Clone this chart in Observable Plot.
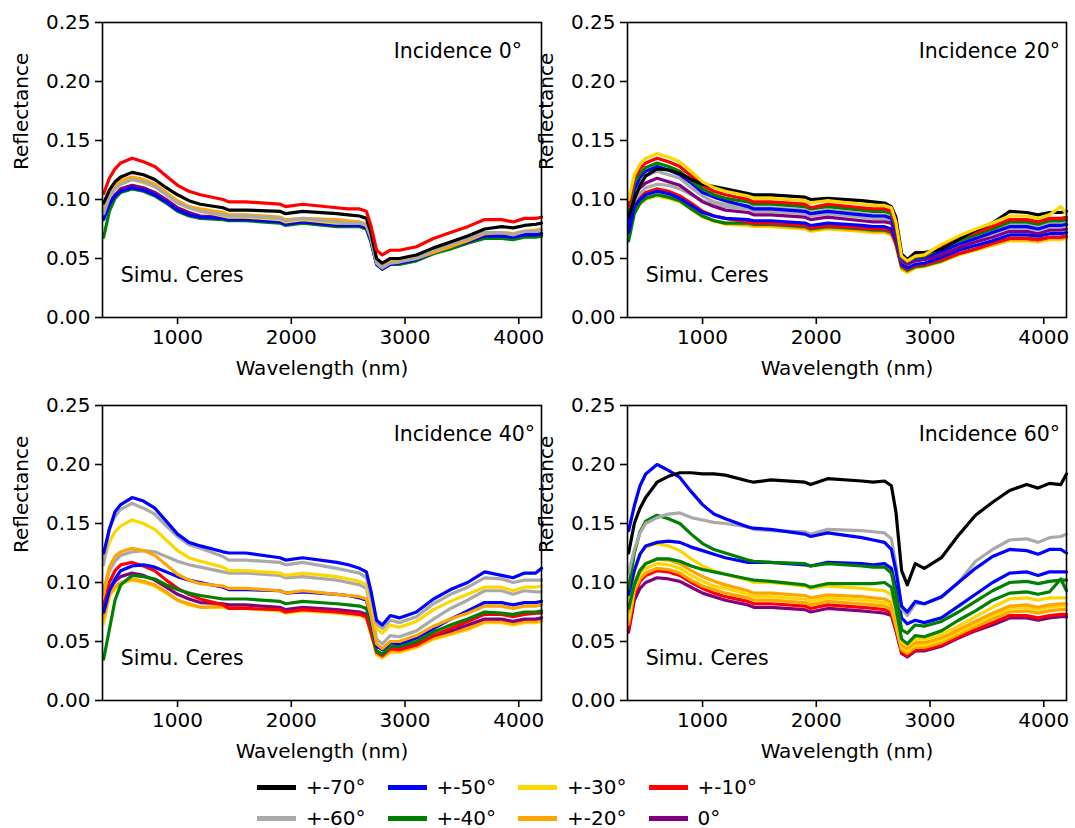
<!DOCTYPE html>
<html>
<head>
<meta charset="utf-8">
<script src="https://cdn.jsdelivr.net/npm/d3@7"></script>
<script src="https://cdn.jsdelivr.net/npm/@observablehq/plot@0.6"></script>
<style>
  body { margin: 0; background: #fff; }
  #fig { position: relative; width: 1075px; height: 828px; background: #fff; font-family: "DejaVu Sans", sans-serif; }
  .panel { position: absolute; }
  .sw { position: absolute; width: 39px; height: 5px; }
  .lt { position: absolute; font-size: 20px; line-height: 24px; color: #000; white-space: nowrap; }
</style>
</head>
<body>
<div id="fig"></div>
<script>
// ---------- shared axes / categories ----------
const wavelengths = [350, 400, 450, 500, 600, 700, 800, 900, 1000, 1100, 1200, 1400, 1450, 1600, 1900, 1950, 2100, 2400, 2500, 2600, 2660, 2700, 2750, 2800, 2870, 2950, 3100, 3250, 3400, 3550, 3700, 3850, 3950, 4050, 4150, 4200];
const xTicks = [1000, 2000, 3000, 4000];
const yTicks = [0, 0.05, 0.10, 0.15, 0.20, 0.25];
const legendKeys = ["+-70°", "+-60°", "+-50°", "+-40°", "+-30°", "+-20°", "+-10°", "0°"];
const legendColors = ["#000000", "#a9a9a9", "#0000ff", "#008000", "#ffd700", "#ffa500", "#ff0000", "#800080"];
const panelTitles = ["Incidence 0°", "Incidence 20°", "Incidence 40°", "Incidence 60°"];
const sampleLabel = "Simu. Ceres";
const xLabel = "Wavelength (nm)";
const yLabel = "Reflectance";

// ---------- Incidence 0° ----------
const inc0_purple = [.087,.098,.104,.109,.112,.110,.106,.100,.093,.089,.086, .085,.084,.084,.082,.080,.082,.079,.079,.079,.077, .066,.046,.042,.046,.047,.050,.056,.061,.065,.070,.070,.069,.071,.071,.072];
const inc0_green  = [.068,.090,.101,.106,.109,.107,.103,.097,.090,.086,.084, .083,.082,.082,.080,.078,.080,.077,.077,.077,.075, .064,.045,.041,.045,.045,.048,.054,.058,.063,.067,.067,.066,.068,.068,.069];
const inc0_blue   = [.083,.096,.103,.107,.110,.108,.104,.098,.091,.087,.085, .084,.083,.083,.081,.079,.081,.078,.078,.078,.076, .065,.045,.041,.045,.046,.049,.055,.060,.064,.069,.069,.068,.070,.070,.071];
const inc0_yellow = [.091,.102,.109,.113,.117,.114,.111,.104,.097,.093,.090, .086,.085,.085,.083,.081,.083,.080,.080,.080,.078, .068,.048,.043,.047,.048,.052,.058,.063,.067,.072,.072,.071,.073,.073,.074];
const inc0_orange = [.092,.104,.111,.116,.119,.117,.113,.106,.099,.094,.092, .089,.087,.087,.085,.083,.084,.083,.082,.081,.079, .068,.047,.043,.047,.048,.050,.055,.060,.065,.071,.072,.071,.073,.074,.075];
const inc0_grey   = [.088,.102,.109,.113,.117,.115,.111,.104,.097,.093,.090, .087,.086,.086,.084,.082,.084,.081,.080,.080,.079, .068,.046,.042,.046,.047,.050,.057,.062,.067,.072,.072,.070,.073,.073,.074];
const inc0_black  = [.097,.108,.115,.119,.123,.121,.117,.110,.104,.099,.096, .093,.091,.091,.090,.088,.090,.088,.087,.086,.084, .072,.050,.046,.050,.050,.053,.059,.064,.069,.075,.077,.076,.078,.079,.080];
const inc0_red    = [.105,.118,.126,.131,.135,.132,.128,.120,.112,.107,.104, .100,.098,.098,.096,.094,.096,.093,.092,.092,.090, .078,.057,.053,.057,.057,.060,.067,.072,.077,.083,.083,.081,.084,.084,.085];

// ---------- Incidence 20° ----------
const inc20_yellowM = [.068,.090,.096,.100,.103,.101,.098,.092,.085,.082,.079, .078,.077,.077,.075,.073,.075,.073,.072,.072,.070, .061,.041,.038,.042,.043,.047,.053,.057,.061,.065,.065,.064,.066,.066,.067];
const inc20_orangeM = [.070,.091,.097,.101,.104,.102,.099,.092,.086,.082,.080, .079,.078,.078,.076,.074,.076,.074,.073,.073,.071, .062,.042,.039,.043,.044,.048,.054,.058,.062,.066,.066,.065,.067,.067,.068];
const inc20_greenM  = [.065,.088,.097,.101,.104,.102,.099,.092,.086,.082,.080, .080,.079,.079,.077,.075,.077,.075,.074,.074,.072, .063,.043,.040,.043,.044,.048,.054,.058,.063,.067,.067,.066,.068,.068,.069];
const inc20_redM    = [.078,.095,.102,.106,.109,.107,.103,.097,.090,.086,.084, .081,.080,.080,.078,.076,.078,.076,.075,.075,.073, .063,.044,.041,.044,.045,.049,.054,.058,.063,.067,.067,.066,.068,.068,.069];
const inc20_blueM   = [.072,.094,.100,.104,.107,.105,.101,.095,.089,.086,.084, .083,.082,.082,.080,.078,.080,.078,.077,.077,.075, .066,.045,.042,.045,.046,.051,.057,.061,.065,.070,.070,.069,.071,.071,.072];
const inc20_greyM   = [.090,.099,.105,.110,.113,.112,.109,.104,.099,.096,.094, .092,.090,.090,.088,.086,.088,.085,.084,.084,.082, .072,.048,.045,.048,.050,.055,.061,.066,.071,.076,.076,.074,.077,.077,.078];
const inc20_purple  = [.085,.103,.110,.114,.118,.115,.112,.105,.098,.094,.091, .089,.087,.087,.085,.083,.085,.082,.081,.081,.080, .069,.048,.045,.048,.049,.053,.059,.064,.068,.073,.073,.071,.074,.074,.075];
const inc20_greyP   = [.095,.110,.116,.120,.124,.121,.118,.110,.103,.098,.096, .095,.093,.093,.091,.089,.091,.088,.087,.087,.085, .074,.050,.046,.050,.051,.057,.064,.069,.073,.079,.079,.077,.080,.080,.081];
const inc20_blueP   = [.080,.108,.119,.124,.128,.125,.121,.114,.106,.102,.099, .094,.092,.092,.090,.088,.090,.087,.086,.086,.084, .073,.050,.046,.050,.051,.056,.062,.067,.072,.077,.077,.075,.078,.078,.079];
const inc20_greenP  = [.090,.114,.122,.127,.131,.128,.124,.116,.109,.104,.101, .098,.096,.096,.094,.092,.094,.091,.090,.090,.088, .076,.051,.047,.051,.052,.059,.065,.070,.075,.081,.081,.079,.082,.082,.083];
const inc20_redP    = [.095,.118,.126,.131,.135,.132,.128,.120,.112,.107,.104, .100,.098,.098,.096,.093,.096,.093,.092,.092,.090, .078,.052,.047,.052,.053,.060,.067,.072,.077,.083,.083,.081,.084,.084,.085];
const inc20_black   = [.085,.100,.112,.120,.126,.125,.122,.117,.113,.111,.109, .105,.104,.104,.102,.100,.101,.099,.098,.097,.094, .085,.054,.049,.055,.055,.058,.066,.074,.080,.090,.089,.087,.089,.089,.090];
const inc20_yellowP = [.100,.121,.130,.135,.139,.136,.132,.124,.115,.110,.107, .103,.101,.101,.099,.097,.099,.096,.095,.095,.093, .081,.052,.048,.052,.053,.062,.069,.075,.080,.086,.086,.084,.087,.094,.088];

// ---------- Incidence 40° ----------
const inc40_yellowM = [.065,.088,.095,.099,.102,.100,.097,.091,.085,.081,.079, .079,.078,.078,.076,.074,.076,.074,.073,.072,.070, .057,.039,.036,.041,.041,.045,.052,.056,.060,.066,.066,.064,.066,.066,.067];
const inc40_orangeM = [.070,.090,.096,.100,.103,.101,.098,.092,.085,.082,.079, .080,.079,.079,.077,.075,.077,.075,.074,.073,.071, .058,.040,.037,.042,.042,.046,.053,.057,.061,.067,.067,.065,.067,.067,.068];
const inc40_purple  = [.075,.094,.101,.105,.108,.106,.102,.096,.090,.086,.083, .082,.081,.081,.079,.077,.079,.077,.076,.075,.073, .060,.042,.039,.044,.044,.048,.055,.059,.064,.069,.069,.067,.069,.069,.070];
const inc40_red     = [.080,.100,.110,.115,.117,.114,.110,.102,.095,.090,.086, .081,.078,.078,.077,.075,.077,.075,.074,.073,.071, .058,.041,.038,.044,.043,.047,.055,.061,.067,.073,.073,.071,.073,.074,.074];
const inc40_green   = [.035,.060,.085,.098,.106,.105,.103,.098,.094,.091,.089, .086,.086,.086,.084,.082,.084,.082,.081,.080,.078, .066,.042,.039,.046,.046,.050,.058,.064,.069,.075,.074,.073,.075,.075,.076];
const inc40_blueM   = [.075,.093,.103,.110,.114,.115,.113,.109,.105,.102,.100, .096,.094,.094,.093,.091,.092,.090,.089,.087,.085, .070,.046,.043,.049,.048,.053,.061,.069,.076,.083,.083,.081,.083,.083,.084];
const inc40_greyM   = [.095,.110,.118,.123,.126,.127,.126,.122,.118,.115,.113, .109,.108,.108,.106,.104,.105,.102,.100,.098,.095, .078,.052,.048,.055,.054,.059,.069,.078,.085,.093,.093,.090,.093,.092,.092];
const inc40_orangeP = [.090,.113,.122,.126,.129,.127,.123,.115,.107,.102,.099, .097,.095,.095,.093,.091,.093,.090,.089,.088,.086, .072,.048,.044,.050,.050,.055,.063,.069,.074,.080,.080,.078,.080,.080,.081];
const inc40_yellowP = [.118,.134,.143,.148,.153,.150,.145,.136,.127,.121,.118, .113,.110,.110,.108,.106,.108,.105,.103,.101,.098, .083,.061,.057,.064,.062,.067,.077,.084,.090,.096,.096,.093,.096,.096,.097];
const inc40_greyP   = [.115,.146,.156,.162,.167,.163,.158,.148,.139,.132,.129, .122,.119,.119,.117,.115,.117,.112,.110,.108,.104, .088,.065,.061,.068,.066,.071,.082,.090,.096,.104,.103,.100,.102,.102,.102];
const inc40_blueP   = [.125,.145,.160,.166,.172,.169,.163,.152,.141,.134,.131, .126,.125,.125,.121,.119,.121,.117,.115,.112,.109, .093,.068,.064,.072,.070,.075,.086,.094,.100,.109,.106,.104,.108,.108,.112];

// ---------- Incidence 60° ----------
const inc60_purple  = [.058,.085,.095,.100,.104,.103,.101,.096,.091,.088,.085, .081,.079,.079,.077,.075,.078,.076,.075,.074,.072, .059,.040,.037,.042,.042,.046,.053,.059,.064,.070,.070,.068,.070,.071,.071];
const inc60_red     = [.060,.090,.101,.106,.110,.109,.106,.100,.095,.091,.088, .084,.082,.082,.080,.078,.081,.079,.078,.077,.074, .061,.041,.038,.043,.043,.047,.054,.060,.066,.072,.072,.070,.072,.073,.073];
const inc60_orangeM = [.065,.093,.103,.108,.112,.111,.108,.102,.097,.094,.091, .087,.085,.085,.083,.081,.084,.082,.081,.080,.077, .063,.043,.040,.045,.045,.049,.056,.063,.069,.075,.076,.074,.076,.077,.077];
const inc60_yellowM = [.070,.096,.107,.112,.116,.115,.112,.106,.101,.097,.095, .090,.088,.088,.086,.084,.087,.085,.084,.083,.080, .066,.045,.042,.047,.047,.051,.058,.065,.072,.078,.079,.077,.079,.080,.080];
const inc60_orangeP = [.075,.100,.111,.116,.120,.119,.116,.110,.105,.101,.098, .093,.091,.091,.089,.087,.0895,.088,.087,.086,.083, .068,.047,.044,.049,.049,.053,.060,.067,.074,.080,.081,.079,.081,.082,.082];
const inc60_yellowP = [.086,.112,.124,.130,.133,.131,.127,.120,.114,.110,.107, .102,.100,.100,.097,.095,.097,.095,.094,.093,.090, .075,.050,.047,.052,.052,.056,.063,.071,.079,.086,.087,.085,.087,.087,.087];
const inc60_greenM  = [.078,.098,.110,.116,.120,.120,.118,.114,.111,.109,.107, .103,.102,.101,.098,.096,.099,.099,.099,.100,.096, .078,.052,.048,.055,.054,.059,.068,.076,.085,.091,.092,.090,.092,.103,.093];
const inc60_blueM   = [.090,.110,.124,.131,.134,.135,.134,.130,.127,.124,.121, .117,.117,.117,.115,.114,.117,.116,.115,.116,.112, .095,.070,.065,.068,.066,.070,.080,.090,.100,.108,.109,.106,.109,.109,.109];
const inc60_greenP  = [.095,.125,.143,.152,.157,.154,.150,.141,.133,.128,.125, .119,.118,.117,.116,.114,.116,.114,.113,.113,.108, .090,.060,.057,.064,.063,.067,.075,.084,.093,.100,.101,.099,.101,.102,.102];
const inc60_greyP   = [.108,.128,.142,.150,.155,.158,.159,.155,.153,.151,.150, .147,.145,.144,.143,.141,.145,.144,.143,.142,.137, .115,.078,.072,.082,.082,.087,.100,.118,.128,.136,.137,.134,.138,.139,.141];
const inc60_blueP   = [.144,.165,.182,.192,.200,.195,.189,.177,.166,.158,.154, .147,.146,.145,.141,.139,.142,.138,.136,.134,.128, .110,.080,.075,.084,.082,.088,.100,.112,.122,.128,.127,.124,.128,.128,.125];
const inc60_black   = [.125,.150,.163,.172,.185,.190,.193,.193,.192,.192,.191, .186,.185,.187,.185,.183,.188,.186,.185,.186,.182, .160,.110,.098,.116,.112,.121,.140,.157,.168,.178,.183,.180,.184,.183,.192];

// ---------- series lists (drawing order: first = bottom) ----------
const panel0 = [["0°", inc0_purple], ["+-40°", inc0_green], ["+-50°", inc0_blue], ["+-30°", inc0_yellow], ["+-20°", inc0_orange], ["+-60°", inc0_grey], ["+-70°", inc0_black], ["+-10°", inc0_red]];
const panel20 = [["+-30°", inc20_yellowM], ["+-20°", inc20_orangeM], ["+-40°", inc20_greenM], ["+-10°", inc20_redM], ["+-50°", inc20_blueM], ["+-60°", inc20_greyM], ["0°", inc20_purple], ["+-60°", inc20_greyP], ["+-50°", inc20_blueP], ["+-40°", inc20_greenP], ["+-10°", inc20_redP], ["+-70°", inc20_black], ["+-30°", inc20_yellowP]];
const panel40 = [["+-30°", inc40_yellowM], ["+-20°", inc40_orangeM], ["0°", inc40_purple], ["+-10°", inc40_red], ["+-40°", inc40_green], ["+-50°", inc40_blueM], ["+-60°", inc40_greyM], ["+-20°", inc40_orangeP], ["+-30°", inc40_yellowP], ["+-60°", inc40_greyP], ["+-50°", inc40_blueP]];
const panel60 = [["0°", inc60_purple], ["+-10°", inc60_red], ["+-20°", inc60_orangeM], ["+-30°", inc60_yellowM], ["+-20°", inc60_orangeP], ["+-30°", inc60_yellowP], ["+-40°", inc60_greenM], ["+-50°", inc60_blueM], ["+-40°", inc60_greenP], ["+-60°", inc60_greyP], ["+-50°", inc60_blueP], ["+-70°", inc60_black]];

// annotation anchors in data units
const titleAt = [2900, 0.22];
const sampleAt = [500, 0.03];

const colorOf = Object.fromEntries(legendKeys.map((k, i) => [k, legendColors[i]]));

function makePanel(series, title) {
  const lines = series.map(([key, vals]) =>
    Plot.line(wavelengths.map((w, i) => ({w, r: vals[i]})), {x: "w", y: "r", stroke: colorOf[key], strokeWidth: 3.2, strokeLinejoin: "round"})
  );
  return Plot.plot({
    width: 545, height: 385,
    marginLeft: 102, marginRight: 4, marginTop: 22, marginBottom: 68,
    x: {domain: [340, 4200]},
    y: {domain: [0, 0.25]},
    style: {fontFamily: "DejaVu Sans, sans-serif", fontSize: "20px", color: "black", background: "transparent", overflow: "visible"},
    marks: [
      ...lines,
      Plot.frame({stroke: "black", strokeWidth: 1.6}),
      Plot.axisX({ticks: xTicks, tickFormat: d3.format("d"), tickSize: 7, tickPadding: 5, label: null, strokeWidth: 1.6}),
      Plot.axisY({ticks: yTicks, tickFormat: d3.format(".2f"), tickSize: 7, tickPadding: 5, label: null, strokeWidth: 1.6}),
      Plot.text([title], {x: () => titleAt[0], y: () => titleAt[1], text: d => d, textAnchor: "start", lineAnchor: "bottom", fontSize: 20.5, fill: "black"}),
      Plot.text([sampleLabel], {x: () => sampleAt[0], y: () => sampleAt[1], text: d => d, textAnchor: "start", lineAnchor: "bottom", fontSize: 20.5, fill: "black"}),
      Plot.text([xLabel], {frameAnchor: "bottom", dy: 57, text: d => d, fontSize: 20, fill: "black"}),
      Plot.text([yLabel], {frameAnchor: "left", dx: -81, rotate: -90, text: d => d, fontSize: 20, fill: "black"})
    ]
  });
}

const fig = document.getElementById("fig");
const layout = [[panel0, 0, 0, 0], [panel20, 1, 525, 0], [panel40, 2, 0, 383], [panel60, 3, 525, 383]];
for (const [series, ti, left, top] of layout) {
  const div = document.createElement("div");
  div.className = "panel";
  div.style.left = left + "px";
  div.style.top = top + "px";
  div.appendChild(makePanel(series, panelTitles[ti]));
  fig.appendChild(div);
}

// legend (4 columns x 2 rows, column-major)
legendKeys.forEach((k, i) => {
  const col = Math.floor(i / 2), row = i % 2;
  const x = 257 + col * 130.5, cy = 787 + row * 31;
  const sw = document.createElement("div");
  sw.className = "sw";
  sw.style.left = x + "px";
  sw.style.top = (cy - 2.5) + "px";
  sw.style.background = legendColors[i];
  fig.appendChild(sw);
  const t = document.createElement("div");
  t.className = "lt";
  t.style.left = (x + 49) + "px";
  t.style.top = (cy - 12) + "px";
  t.textContent = k;
  fig.appendChild(t);
});
</script>
</body>
</html>
